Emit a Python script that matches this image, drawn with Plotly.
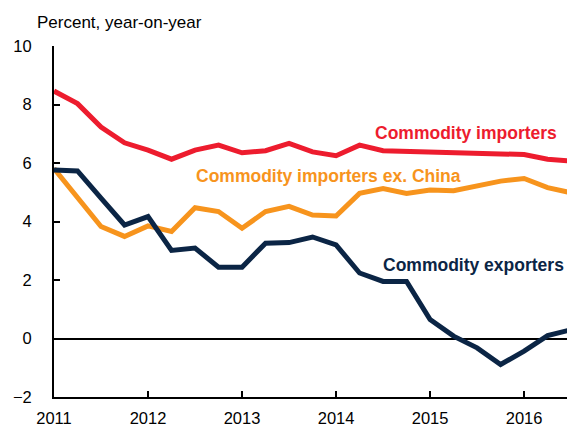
import plotly.graph_objects as go

quarters = [2011.0, 2011.25, 2011.5, 2011.75, 2012.0, 2012.25, 2012.5, 2012.75,
            2013.0, 2013.25, 2013.5, 2013.75, 2014.0, 2014.25, 2014.5, 2014.75,
            2015.0, 2015.25, 2015.5, 2015.75, 2016.0, 2016.25, 2016.5]

importers = [8.46, 8.03, 7.23, 6.69, 6.44, 6.13, 6.44, 6.61, 6.35, 6.42, 6.67, 6.38,
             6.25, 6.61, 6.42, 6.39, 6.37, 6.35, 6.33, 6.31, 6.29, 6.13, 6.07]

importers_ex_china = [5.81, 4.80, 3.83, 3.49, 3.85, 3.66, 4.47, 4.34, 3.77, 4.34, 4.52, 4.22,
                      4.19, 4.96, 5.13, 4.96, 5.08, 5.05, 5.21, 5.38, 5.47, 5.16, 4.98]

exporters = [5.76, 5.73, 4.80, 3.88, 4.17, 3.01, 3.09, 2.44, 2.44, 3.26, 3.28, 3.47,
             3.20, 2.24, 1.95, 1.95, 0.65, 0.08, -0.32, -0.89, -0.43, 0.10, 0.30]

year_ticks = [2011, 2012, 2013, 2014, 2015, 2016]
y_ticks = [-2, 0, 2, 4, 6, 8, 10]

RED = "#ED1C2E"
ORANGE = "#F7941D"
NAVY = "#0B2545"
FONT = "Liberation Sans, Arial, sans-serif"

fig = go.Figure()
fig.add_trace(go.Scatter(x=quarters, y=importers, mode="lines",
                         line=dict(color=RED, width=5), name="Commodity importers"))
fig.add_trace(go.Scatter(x=quarters, y=importers_ex_china, mode="lines",
                         line=dict(color=ORANGE, width=5), name="Commodity importers ex. China"))
fig.add_trace(go.Scatter(x=quarters, y=exporters, mode="lines",
                         line=dict(color=NAVY, width=5), name="Commodity exporters"))

fig.add_annotation(x=2015.38, y=7.02, text="<b>Commodity importers</b>", showarrow=False,
                   font=dict(color=RED, size=17.5, family=FONT))
fig.add_annotation(x=2013.92, y=5.55, text="<b>Commodity importers ex. China</b>", showarrow=False,
                   font=dict(color=ORANGE, size=17.5, family=FONT))
fig.add_annotation(x=2015.46, y=2.52, text="<b>Commodity exporters</b>", showarrow=False,
                   font=dict(color=NAVY, size=17.5, family=FONT))
fig.add_annotation(x=-19/519, y=1 + 24/351, xref="paper", yref="paper",
                   xanchor="left", yanchor="middle", text="Percent, year-on-year",
                   showarrow=False, font=dict(color="black", size=17, family=FONT))

# page body has an 8px margin, so the figure is sized/offset to compensate
fig.update_layout(
    width=567, height=423,
    margin=dict(l=46, r=2, t=38, b=34, autoexpand=False),
    paper_bgcolor="white", plot_bgcolor="white",
    showlegend=False,
    font=dict(family=FONT, size=16, color="black"),
)

fig.update_xaxes(range=[2011, 2016.52], tickvals=year_ticks, ticktext=[str(y) for y in year_ticks],
                 showgrid=False, zeroline=False, showline=True, linecolor="black", linewidth=2,
                 ticks="inside", ticklen=6, tickwidth=1.5, tickcolor="black",
                 tickfont=dict(size=16.5), ticklabelstandoff=5, automargin=False, fixedrange=True)
fig.update_yaxes(range=[-2, 10], tickvals=y_ticks, showgrid=False,
                 zeroline=True, zerolinecolor="black", zerolinewidth=1.5,
                 showline=True, linecolor="black", linewidth=2,
                 ticks="inside", ticklen=6, tickwidth=1.5, tickcolor="black",
                 tickfont=dict(size=16.5), ticklabelstandoff=17, automargin=False)

fig.write_html("out.html")
